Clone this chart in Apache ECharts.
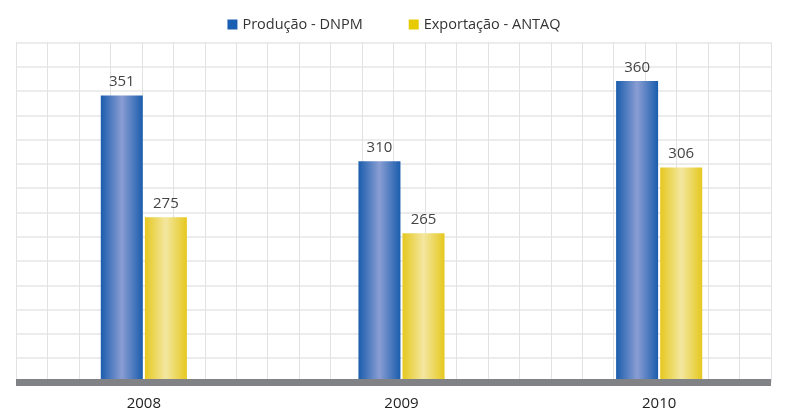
<!DOCTYPE html>
<html>
<head>
<meta charset="utf-8">
<script src="https://cdn.jsdelivr.net/npm/echarts@6/dist/echarts.min.js"></script>
<style>html,body{margin:0;padding:0;background:#fff}#c{width:788px;height:420px}</style>
</head>
<body>
<div id="c"></div>
<script>
const categories = ['2008', '2009', '2010'];
const producao = [351, 310, 360];
const exportacao = [275, 265, 306];
const seriesNames = ['Produção - DNPM', 'Exportação - ANTAQ'];

const chart = echarts.init(document.getElementById('c'), null, {renderer: 'canvas'});
function grad(edge, mid) {
  return new echarts.graphic.LinearGradient(0, 0, 1, 0, [
    {offset: 0, color: edge}, {offset: 0.5, color: mid}, {offset: 1, color: edge}
  ]);
}
const font = '"Open Sans", sans-serif';
chart.setOption({
  animation: false,
  legend: {
    top: 12, left: 'center', itemWidth: 10, itemHeight: 10, itemGap: 46,
    textStyle: {fontFamily: '"Open Sans", sans-serif', fontSize: 14.5, color: '#333'},
    data: [
      {name: seriesNames[0], icon: 'rect', itemStyle: {color: '#1b5fb3'}},
      {name: seriesNames[1], icon: 'rect', itemStyle: {color: '#e5cb00'}}
    ]
  },
  grid: [
    {left: 16, right: 17, top: 42.5, bottom: 37.5},
    {left: 15, width: 779, top: 42.5, bottom: 37.5},
    {left: 16, right: 17, top: 42.5, bottom: 37.5}
  ],
  xAxis: [
    {type: 'value', gridIndex: 0, min: 0, max: 24, interval: 1,
     axisLine: {show: false}, axisTick: {show: false}, axisLabel: {show: false},
     splitLine: {show: true, lineStyle: {color: '#e2e2e2', width: 1}}},
    {type: 'category', gridIndex: 1, data: categories,
     axisLine: {show: false},
     axisTick: {show: false},
     axisLabel: {margin: 14, fontFamily: font, fontSize: 15, color: '#222'}},
    {type: 'value', gridIndex: 2, min: 0, max: 24, z: 10,
     axisLine: {show: true, onZero: false, lineStyle: {color: '#808285', width: 7, cap: 'butt'}},
     axisTick: {show: false}, axisLabel: {show: false}, splitLine: {show: false}}
  ],
  yAxis: [
    {type: 'value', gridIndex: 0, min: 0, max: 14, interval: 1,
     axisLine: {show: false}, axisTick: {show: false}, axisLabel: {show: false},
     splitLine: {show: true, lineStyle: {color: '#e6e6e6', width: 1.5}}},
    {type: 'value', gridIndex: 1, min: 172, max: 384, show: false,
     splitLine: {show: false}},
    {type: 'value', gridIndex: 2, min: 0, max: 14, show: false,
     splitLine: {show: false}}
  ],
  series: [
    {name: seriesNames[0], type: 'bar', xAxisIndex: 1, yAxisIndex: 1, data: producao,
     barWidth: 42, barGap: '5%',
     itemStyle: {color: grad('#1a5dad', '#8a9dd3')},
     label: {show: true, position: 'top', distance: 6, fontFamily: font, fontSize: 15, color: '#444'}},
    {name: seriesNames[1], type: 'bar', xAxisIndex: 1, yAxisIndex: 1, data: exportacao,
     barWidth: 42, barGap: '5%',
     itemStyle: {color: grad('#e6c81e', '#f3e7a0')},
     label: {show: true, position: 'top', distance: 6, fontFamily: font, fontSize: 15, color: '#444'}}
  ]
});
</script>
</body>
</html>
